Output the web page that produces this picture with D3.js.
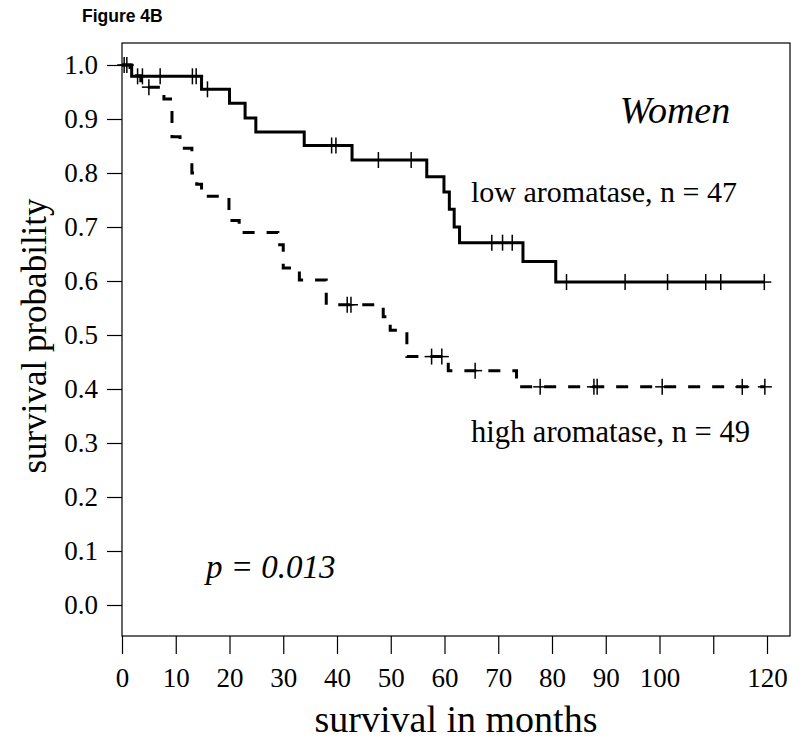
<!DOCTYPE html>
<html>
<head>
<meta charset="utf-8">
<script src="https://cdn.jsdelivr.net/npm/d3@7"></script>
<style>
  body { margin: 0; background: #fff; }
  svg { display: block; }
</style>
</head>
<body>
<svg id="chart" width="800" height="742"></svg>
<script>
// ---- Data ----
// low aromatase (solid line), n = 47
const lowStepTimes = [0, 1.8, 14.8, 20.0, 22.9, 24.9, 33.9, 42.8, 56.7, 59.9, 60.9, 61.8, 62.8, 74.6, 80.7];
const lowStepSurv  = [1.0, 0.979, 0.955, 0.929, 0.902, 0.876, 0.851, 0.824, 0.793, 0.765, 0.733, 0.700, 0.671, 0.636, 0.598];
const lowEndTime = 119.5;
const lowCensorTimes = [0.4, 0.9, 2.9, 3.8, 7.1, 13.1, 13.8, 15.9, 39.0, 39.8, 47.7, 53.8, 68.8, 70.8, 72.6, 82.7, 93.6, 101.5, 108.6, 111.4, 119.5];

// high aromatase (dashed line), n = 49
const highStepTimes = [0, 1.5, 3.5, 7.8, 9.3, 10.8, 13.0, 13.9, 14.8, 19.9, 21.8, 29.0, 30.0, 33.0, 38.0, 48.6, 49.9, 53.0, 60.7, 73.4];
const highStepSurv  = [1.0, 0.980, 0.959, 0.937, 0.867, 0.846, 0.800, 0.779, 0.757, 0.712, 0.690, 0.667, 0.624, 0.602, 0.556, 0.534, 0.509, 0.460, 0.434, 0.404];
const highEndTime = 119.6;
const highCensorTimes = [5.0, 41.9, 42.6, 57.6, 59.5, 65.7, 77.8, 87.8, 88.4, 100.5, 115.4, 119.6];

const xTicks = [0, 10, 20, 30, 40, 50, 60, 70, 80, 90, 100, 110, 120];
const xTickLabels = ["0", "10", "20", "30", "40", "50", "60", "70", "80", "90", "100", "", "120"];
const yTicks = [0, 0.1, 0.2, 0.3, 0.4, 0.5, 0.6, 0.7, 0.8, 0.9, 1.0];

// ---- Layout ----
const svg = d3.select("#chart");
const serif = "'Liberation Serif', 'Times New Roman', Times, serif";
const box = { left: 122, right: 790, top: 43, bottom: 636 };

const x = d3.scaleLinear().domain([0, 120]).range([122, 767]);
const y = d3.scaleLinear().domain([0, 1]).range([605, 65]);

svg.append("rect").attr("width", 800).attr("height", 742).attr("fill", "#fff");

// title
svg.append("text").attr("x", 82).attr("y", 22)
  .attr("font-family", "'Liberation Sans', Arial, sans-serif")
  .attr("font-weight", "bold").attr("font-size", 17.5).text("Figure 4B");

// box
svg.append("rect")
  .attr("x", box.left).attr("y", box.top)
  .attr("width", box.right - box.left).attr("height", box.bottom - box.top)
  .attr("fill", "none").attr("stroke", "#000").attr("stroke-width", 1.2);

// axes
const xAxis = d3.axisBottom(x).tickValues(xTicks)
  .tickFormat((d, i) => xTickLabels[i]).tickSize(18).tickPadding(14);
const gx = svg.append("g").attr("transform", `translate(0,${box.bottom})`).call(xAxis);
gx.select(".domain").remove();
gx.selectAll("line").attr("stroke-width", 1.2);
gx.selectAll("text").attr("font-family", serif).attr("font-size", 27).attr("fill", "#000");

const yAxis = d3.axisLeft(y).tickValues(yTicks).tickFormat(d3.format(".1f")).tickSize(15).tickPadding(9);
const gy = svg.append("g").attr("transform", `translate(${box.left},0)`).call(yAxis);
gy.select(".domain").remove();
gy.selectAll("line").attr("stroke-width", 1.2);
gy.selectAll("text").attr("font-family", serif).attr("font-size", 27).attr("fill", "#000");

// axis titles
svg.append("text").attr("x", 456).attr("y", 732).attr("text-anchor", "middle")
  .attr("font-family", serif).attr("font-size", 38).text("survival in months");
svg.append("text").attr("transform", "translate(46,336) rotate(-90)").attr("text-anchor", "middle")
  .attr("font-family", serif).attr("font-size", 35).text("survival probability");

// curves
function stepPoints(times, surv, end) {
  const pts = times.map((t, i) => [t, surv[i]]);
  pts.push([end, surv[surv.length - 1]]);
  return pts;
}
function survAt(times, surv, t) {
  let s = surv[0];
  for (let i = 0; i < times.length; i++) if (times[i] <= t) s = surv[i];
  return s;
}
const line = d3.line().x(d => x(d[0])).y(d => y(d[1])).curve(d3.curveStepAfter);

svg.append("path").datum(stepPoints(lowStepTimes, lowStepSurv, lowEndTime))
  .attr("d", line).attr("fill", "none").attr("stroke", "#000").attr("stroke-width", 3);
svg.append("path").datum(stepPoints(highStepTimes, highStepSurv, highEndTime))
  .attr("d", line).attr("fill", "none").attr("stroke", "#000").attr("stroke-width", 3)
  .attr("stroke-dasharray", "12,12");

function drawCensor(times, stepT, stepS) {
  const g = svg.append("g").attr("stroke", "#000").attr("stroke-width", 1.5);
  times.forEach(t => {
    const cx = x(t), cy = y(survAt(stepT, stepS, t));
    g.append("line").attr("x1", cx).attr("x2", cx).attr("y1", cy - 8).attr("y2", cy + 8);
    g.append("line").attr("x1", cx - 7).attr("x2", cx + 7).attr("y1", cy).attr("y2", cy);
  });
}
drawCensor(lowCensorTimes, lowStepTimes, lowStepSurv);
drawCensor(highCensorTimes, highStepTimes, highStepSurv);

// annotations
svg.append("text").attr("x", 675).attr("y", 123).attr("text-anchor", "middle")
  .attr("font-family", serif).attr("font-style", "italic").attr("font-size", 38).text("Women");
svg.append("text").attr("x", 471).attr("y", 202)
  .attr("font-family", serif).attr("font-size", 30).text("low aromatase, n = 47");
svg.append("text").attr("x", 471).attr("y", 442)
  .attr("font-family", serif).attr("font-size", 30.5).text("high aromatase, n = 49");
svg.append("text").attr("x", 206).attr("y", 578)
  .attr("font-family", serif).attr("font-style", "italic").attr("font-size", 33).text("p = 0.013");
</script>
</body>
</html>
